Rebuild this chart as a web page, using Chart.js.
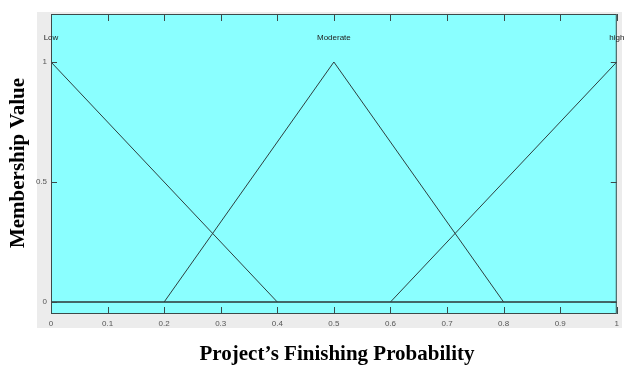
<!DOCTYPE html>
<html>
<head>
<meta charset="utf-8">
<script src="https://cdn.jsdelivr.net/npm/chart.js@4"></script>
<style>
  html, body { margin: 0; padding: 0; background: #fff; }
  canvas { display: block; }
</style>
</head>
<body>
<canvas id="chart" width="624" height="365"></canvas>
<script>
// membership functions (triangles)
const mfNames = ['Low', 'Moderate', 'high'];
const mfLabelX = [0, 0.5, 1];
const lowX = [0, 0.4];
const lowY = [1, 0];
const moderateX = [0.2, 0.5, 0.8];
const moderateY = [0, 1, 0];
const highX = [0.6, 1];
const highY = [0, 1];
const baseX = [0, 1];
const baseY = [0, 0];
const xTicks = [0, 0.1, 0.2, 0.3, 0.4, 0.5, 0.6, 0.7, 0.8, 0.9, 1];
const yTicks = [0, 0.5, 1];

const toPoints = (xs, ys) => xs.map((x, i) => ({ x: x, y: ys[i] }));

const lineColor = '#2f3f3f';
const frameColor = '#3c4a4a';

// gray figure panel, frame, inward ticks, mf names, axis titles
const matlabLook = {
  id: 'matlabLook',
  beforeDraw(chart) {
    const { ctx, chartArea: a } = chart;
    ctx.save();
    ctx.fillStyle = '#ececec';
    ctx.fillRect(37, 12, 585, 316);
    ctx.fillStyle = '#8affff';
    ctx.fillRect(a.left, a.top, a.right - a.left, a.bottom - a.top);
    ctx.restore();
  },
  afterDraw(chart) {
    const { ctx, chartArea: a, scales } = chart;
    ctx.save();
    ctx.strokeStyle = frameColor;
    ctx.lineWidth = 1;
    ctx.strokeRect(a.left + 0.5, a.top + 0.5, a.right - a.left - 1, a.bottom - a.top - 1);
    ctx.beginPath();
    xTicks.forEach((v) => {
      const px = Math.round(scales.x.getPixelForValue(v)) + 0.5;
      ctx.moveTo(px, a.bottom);
      ctx.lineTo(px, a.bottom - 7);
      ctx.moveTo(px, a.top);
      ctx.lineTo(px, a.top + 7);
    });
    yTicks.forEach((v) => {
      const py = Math.round(scales.y.getPixelForValue(v)) + 0.5;
      ctx.moveTo(a.left, py);
      ctx.lineTo(a.left + 6, py);
      ctx.moveTo(a.right, py);
      ctx.lineTo(a.right - 6, py);
    });
    ctx.stroke();

    ctx.fillStyle = '#222';
    ctx.font = '8px "Liberation Sans", Arial, sans-serif';
    ctx.textAlign = 'center';
    ctx.textBaseline = 'middle';
    mfNames.forEach((name, i) => {
      ctx.fillText(name, scales.x.getPixelForValue(mfLabelX[i]), scales.y.getPixelForValue(1.1));
    });

    ctx.fillStyle = '#000';
    ctx.font = 'bold 21px "Liberation Serif", "Times New Roman", serif';
    ctx.textBaseline = 'alphabetic';
    ctx.fillText('Project\u2019s Finishing Probability', 337, 360);
    ctx.translate(24, 163);
    ctx.rotate(-Math.PI / 2);
    ctx.fillText('Membership Value', 0, 0);
    ctx.restore();
  }
};

const mfStyle = { borderColor: lineColor, borderWidth: 1, pointRadius: 0, fill: false, tension: 0 };

new Chart(document.getElementById('chart'), {
  type: 'line',
  data: {
    datasets: [
      Object.assign({ label: mfNames[0], data: toPoints(lowX, lowY) }, mfStyle),
      Object.assign({ label: mfNames[1], data: toPoints(moderateX, moderateY) }, mfStyle),
      Object.assign({ label: mfNames[2], data: toPoints(highX, highY) }, mfStyle),
      { label: 'base', data: toPoints(baseX, baseY), borderColor: '#2a3636', borderWidth: 1.6, pointRadius: 0, fill: false }
    ]
  },
  options: {
    responsive: false,
    animation: false,
    layout: { padding: { top: 14, right: 7, left: 0, bottom: 0 } },
    plugins: { legend: { display: false }, tooltip: { enabled: false } },
    scales: {
      x: {
        type: 'linear',
        min: 0,
        max: 1,
        afterFit(scale) { scale.height = 51; },
        afterBuildTicks(scale) { scale.ticks = xTicks.map((v) => ({ value: v })); },
        grid: { display: false, drawTicks: false },
        border: { display: false },
        ticks: {
          color: '#555',
          font: { size: 8, family: '"Liberation Sans", Arial, sans-serif' },
          padding: 5,
          maxRotation: 0,
          autoSkip: false,
          callback: (v) => String(v)
        }
      },
      y: {
        type: 'linear',
        min: -0.05,
        max: 1.2,
        afterFit(scale) { scale.width = 51; },
        afterBuildTicks(scale) { scale.ticks = yTicks.map((v) => ({ value: v })); },
        grid: { display: false, drawTicks: false },
        border: { display: false },
        ticks: {
          color: '#555',
          font: { size: 8, family: '"Liberation Sans", Arial, sans-serif' },
          padding: 4,
          callback: (v) => String(v)
        }
      }
    }
  },
  plugins: [matlabLook]
});
</script>
</body>
</html>
